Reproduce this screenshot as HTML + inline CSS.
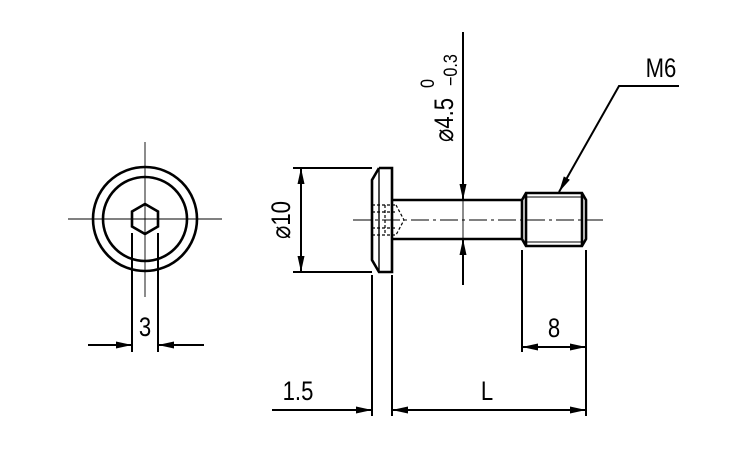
<!DOCTYPE html>
<html><head><meta charset="utf-8"><style>html,body{margin:0;padding:0;background:#fff}svg{display:block}text{font-family:"Liberation Sans",sans-serif;fill:#000}.s{font-size:19px}</style></head>
<body>
<svg width="750" height="450" viewBox="0 0 750 450" xmlns="http://www.w3.org/2000/svg">
<defs>
<marker id="a" viewBox="0 0 16 7" refX="16" refY="3.5" markerWidth="16" markerHeight="7" markerUnits="userSpaceOnUse" orient="auto"><path d="M0,0 L16,3.5 L0,7 z" fill="#000"/></marker>
</defs>
<g stroke="#000" fill="none">
<g stroke-width="0.9"><line x1="68" y1="219" x2="222" y2="219"/><line x1="145" y1="142" x2="145" y2="297"/></g>
<g stroke-width="2.6"><circle cx="145" cy="219" r="52"/><circle cx="145" cy="219" r="42"/>
<polygon points="145,204 158,211.5 158,226.5 145,234 132,226.5 132,211.5"/></g>
<g stroke-width="2"><line x1="132" y1="233" x2="132" y2="352"/><line x1="158" y1="233" x2="158" y2="352"/>
<line x1="88" y1="345" x2="132" y2="345" marker-end="url(#a)"/><line x1="204" y1="345" x2="158" y2="345" marker-end="url(#a)"/></g>

<line x1="353" y1="220" x2="606" y2="220" stroke-width="0.9" stroke-dasharray="18,4,3,4"/>
<g stroke-width="2.6">
<polyline points="379,168 392,168 392,272 379,272 372,260 372,180 379,168"/>
<line x1="379" y1="168" x2="379" y2="272" stroke-width="1.4"/>
<line x1="392" y1="200" x2="522" y2="200"/><line x1="392" y1="239" x2="522" y2="239"/>
<polyline points="522,200 526,193 582,193 586,200 586,239 582,246 526,246 522,239 522,200"/>
<line x1="526" y1="193" x2="526" y2="246"/><line x1="582" y1="193" x2="582" y2="246"/>
</g>
<line x1="526" y1="197" x2="582" y2="197" stroke-width="0.9"/><line x1="526" y1="242" x2="582" y2="242" stroke-width="0.9"/>
<g stroke-width="1.2" stroke-dasharray="3,2"><line x1="372" y1="205" x2="396" y2="205"/><line x1="372" y1="212" x2="396" y2="212"/><line x1="372" y1="228" x2="396" y2="228"/><line x1="372" y1="235" x2="396" y2="235"/><line x1="385" y1="205" x2="385" y2="235"/><line x1="392" y1="205" x2="392" y2="235"/><polyline points="396,205 404,220 396,235"/></g>

<g stroke-width="2">
<line x1="293" y1="168" x2="372" y2="168"/><line x1="293" y1="272" x2="372" y2="272"/>
<line x1="301" y1="220" x2="301" y2="168" marker-end="url(#a)"/><line x1="301" y1="220" x2="301" y2="272" marker-end="url(#a)"/>
<line x1="463" y1="32" x2="463" y2="200" marker-end="url(#a)"/>
<line x1="463" y1="285" x2="463" y2="239" marker-end="url(#a)"/>
<line x1="463" y1="200" x2="463" y2="239" stroke-width="0.9"/>
<polyline points="679,86 619,86 559,192" marker-end="url(#a)"/>
<line x1="372" y1="275" x2="372" y2="416"/><line x1="392" y1="275" x2="392" y2="416"/>
<line x1="522" y1="250" x2="522" y2="352"/><line x1="586" y1="250" x2="586" y2="416"/>
<line x1="554" y1="347" x2="522" y2="347" marker-end="url(#a)"/><line x1="554" y1="347" x2="586" y2="347" marker-end="url(#a)"/>
<line x1="272" y1="410" x2="372" y2="410" marker-end="url(#a)"/>
<line x1="490" y1="410" x2="392" y2="410" marker-end="url(#a)"/><line x1="490" y1="410" x2="586" y2="410" marker-end="url(#a)"/>
</g>
</g>
<g font-size="27">
<text transform="translate(145,336) scale(0.82,1)" text-anchor="middle">3</text>
<text transform="translate(554,337) scale(0.82,1)" text-anchor="middle">8</text>
<text transform="translate(487,400) scale(0.82,1)" text-anchor="middle">L</text>
<text transform="translate(298,400) scale(0.82,1)" text-anchor="middle">1.5</text>
<text transform="translate(661,77) scale(0.82,1)" text-anchor="middle">M6</text>
<text transform="translate(290,220) rotate(-90) scale(0.82,1)" text-anchor="middle">⌀10</text>
<text transform="translate(453,142) rotate(-90) scale(0.82,1)">⌀4.5</text>
</g>
<text class="s" transform="translate(434,88) rotate(-90) scale(0.85,1)">0</text>
<text class="s" transform="translate(457,86) rotate(-90) scale(0.85,1)">−0.3</text>
</svg>
</body></html>
